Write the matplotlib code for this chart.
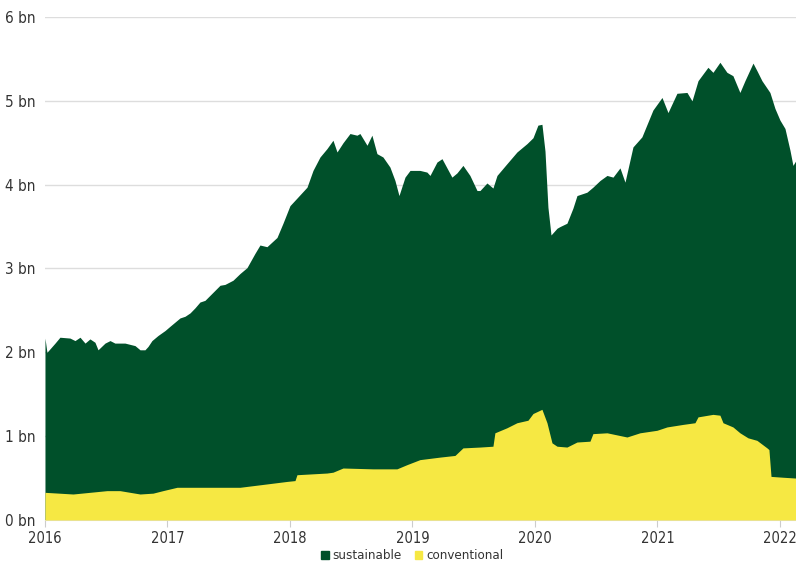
import matplotlib.pyplot as plt
from matplotlib.patches import Patch
import numpy as np

# top of the stack (total), in bn, by decimal year
total_years = [
    2016.000, 2016.016, 2016.082, 2016.122, 2016.204, 2016.245, 2016.286, 2016.327, 2016.367, 2016.408,
    2016.433, 2016.490, 2016.531, 2016.571, 2016.653, 2016.735, 2016.776, 2016.816, 2016.841, 2016.873,
    2016.922, 2016.980, 2017.020, 2017.061, 2017.102, 2017.143, 2017.184, 2017.224, 2017.265, 2017.306,
    2017.347, 2017.388, 2017.429, 2017.469, 2017.535, 2017.592, 2017.649, 2017.714, 2017.755, 2017.812,
    2017.894, 2017.943, 2018.000, 2018.057, 2018.139, 2018.188, 2018.245, 2018.302, 2018.351, 2018.384,
    2018.433, 2018.490, 2018.547, 2018.571, 2018.629, 2018.669, 2018.710, 2018.759, 2018.816, 2018.857,
    2018.890, 2018.939, 2018.980, 2019.061, 2019.118, 2019.143, 2019.200, 2019.241, 2019.322, 2019.363,
    2019.412, 2019.469, 2019.527, 2019.551, 2019.608, 2019.657, 2019.690, 2019.771, 2019.853, 2019.935,
    2019.984, 2020.024, 2020.057, 2020.082, 2020.106, 2020.131, 2020.180, 2020.204, 2020.261, 2020.310,
    2020.343, 2020.424, 2020.473, 2020.531, 2020.588, 2020.637, 2020.694, 2020.735, 2020.800, 2020.873,
    2020.963, 2021.037, 2021.086, 2021.159, 2021.241, 2021.282, 2021.331, 2021.412, 2021.453, 2021.510,
    2021.567, 2021.616, 2021.673, 2021.714, 2021.780, 2021.812, 2021.853, 2021.918, 2021.959, 2022.000,
    2022.041, 2022.082, 2022.106, 2022.131,
]
total_bn = [
    2.17, 2.00, 2.11, 2.18, 2.17, 2.14, 2.18, 2.11, 2.16, 2.12,
    2.03, 2.11, 2.14, 2.11, 2.11, 2.08, 2.03, 2.03, 2.07, 2.14,
    2.20, 2.26, 2.31, 2.36, 2.41, 2.43, 2.47, 2.53, 2.60, 2.62,
    2.68, 2.74, 2.80, 2.81, 2.86, 2.94, 3.01, 3.18, 3.28, 3.26,
    3.37, 3.54, 3.75, 3.84, 3.97, 4.17, 4.33, 4.43, 4.53, 4.39,
    4.50, 4.61, 4.59, 4.61, 4.47, 4.59, 4.37, 4.33, 4.21, 4.05,
    3.87, 4.09, 4.17, 4.17, 4.15, 4.11, 4.27, 4.31, 4.09, 4.14,
    4.23, 4.11, 3.93, 3.93, 4.02, 3.96, 4.11, 4.25, 4.39, 4.49,
    4.56, 4.71, 4.72, 4.40, 3.73, 3.40, 3.48, 3.50, 3.54, 3.72,
    3.87, 3.91, 3.97, 4.05, 4.11, 4.09, 4.20, 4.03, 4.45, 4.57,
    4.89, 5.04, 4.86, 5.09, 5.10, 5.00, 5.24, 5.40, 5.34, 5.46,
    5.34, 5.30, 5.10, 5.24, 5.45, 5.36, 5.24, 5.10, 4.91, 4.77,
    4.67, 4.41, 4.23, 4.29,
]

# conventional, in bn
conv_years = [
    2016.000, 2016.229, 2016.506, 2016.612, 2016.776, 2016.882, 2016.963, 2017.078, 2017.322, 2017.592,
    2017.812, 2017.976, 2018.041, 2018.057, 2018.302, 2018.351, 2018.433, 2018.678, 2018.873, 2018.955,
    2019.061, 2019.224, 2019.347, 2019.412, 2019.551, 2019.657, 2019.673, 2019.771, 2019.853, 2019.943,
    2019.984, 2020.057, 2020.098, 2020.139, 2020.180, 2020.261, 2020.343, 2020.449, 2020.473, 2020.588,
    2020.751, 2020.857, 2020.996, 2021.078, 2021.208, 2021.306, 2021.331, 2021.453, 2021.510, 2021.535,
    2021.616, 2021.673, 2021.739, 2021.812, 2021.894, 2021.910, 2021.927, 2022.024, 2022.131,
]
conv_bn = [
    0.33, 0.31, 0.35, 0.35, 0.31, 0.32, 0.35, 0.39, 0.39, 0.39,
    0.43, 0.46, 0.47, 0.54, 0.56, 0.57, 0.62, 0.61, 0.61, 0.66,
    0.72, 0.75, 0.77, 0.86, 0.87, 0.88, 1.04, 1.10, 1.16, 1.19,
    1.27, 1.32, 1.16, 0.92, 0.88, 0.87, 0.93, 0.94, 1.03, 1.04,
    0.99, 1.04, 1.07, 1.11, 1.14, 1.16, 1.23, 1.26, 1.25, 1.16,
    1.11, 1.04, 0.98, 0.95, 0.86, 0.84, 0.52, 0.51, 0.50,
]

year_ticks = [2016, 2017, 2018, 2019, 2020, 2021, 2022]
bn_ticks = [0, 1, 2, 3, 4, 5, 6]

GREEN = '#00502a'
YELLOW = '#f6e843'

# narrow face, condensed DejaVu as the fallback
plt.rcParams['font.family'] = ['Liberation Sans Narrow', 'DejaVu Sans']
plt.rcParams['font.stretch'] = 'condensed'

fig = plt.figure(figsize=(7.96, 5.63), dpi=100)
ax = fig.add_axes([0.0565, 0.0764, 0.9435, 0.8934])

ax.fill_between(total_years, 0, total_bn, color=GREEN, linewidth=0, zorder=2)
ax.fill_between(conv_years, 0, conv_bn, color=YELLOW, linewidth=0, zorder=3)

ax.set_xlim(2016, total_years[-1])
ax.set_ylim(0, 6)
ax.set_yticks(bn_ticks)
ax.set_yticklabels([f'{v} bn' for v in bn_ticks])
ax.set_xticks(year_ticks)
ax.set_xticklabels([str(y) for y in year_ticks])

ax.grid(axis='y', color='#dddddd', linewidth=1, zorder=0)
ax.set_axisbelow(True)
for s in ['top', 'right', 'left']:
    ax.spines[s].set_visible(False)
ax.spines['bottom'].set_color('#dddddd')
ax.tick_params(axis='y', length=0, pad=6.5, labelsize=11, colors='#333333')
ax.tick_params(axis='x', length=5, color='#cccccc', pad=3, labelsize=10.5, labelcolor='#333333')

handles = [Patch(color=GREEN, label='sustainable'), Patch(color=YELLOW, label='conventional')]
fig.legend(handles=handles, loc='lower center', bbox_to_anchor=(0.518, -0.02), ncol=2,
           frameon=False, fontsize=9.5, handlelength=0.55, handleheight=0.6,
           handletextpad=0.3, columnspacing=1.0, labelcolor='#333333')

fig.savefig('out.png', dpi=100)
